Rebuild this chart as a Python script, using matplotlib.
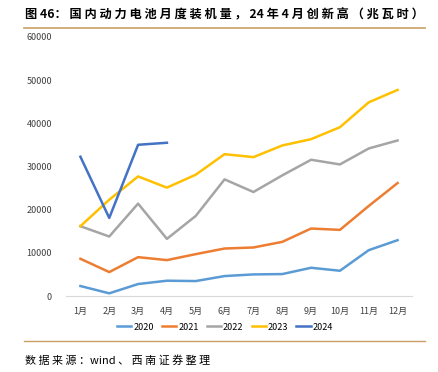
import matplotlib
matplotlib.use("Agg")
from matplotlib import pyplot as plt
from matplotlib.lines import Line2D

plt.rcParams['font.family'] = ['Noto Sans CJK SC', 'DejaVu Sans']

months = ["1月", "2月", "3月", "4月", "5月", "6月", "7月", "8月", "9月", "10月", "11月", "12月"]
y2020 = [2310, 620, 2770, 3540, 3460, 4620, 5000, 5080, 6540, 5850, 10620, 12930]
y2021 = [8620, 5540, 9000, 8310, 9700, 11000, 11240, 12540, 15630, 15320, 20860, 26170]
y2022 = [16170, 13780, 21400, 13240, 18550, 27020, 24090, 27940, 31560, 30480, 34180, 36030]
y2023 = [16170, 22300, 27700, 25100, 28100, 32860, 32170, 34870, 36330, 39100, 44870, 47740]
y2024 = [32260, 18080, 35030, 35500]

series = [("2020", y2020, "#5B9BD5"),
          ("2021", y2021, "#ED7D31"),
          ("2022", y2022, "#A5A5A5"),
          ("2023", y2023, "#FFC000"),
          ("2024", y2024, "#4472C4")]

W, H = 438, 372
fig = plt.figure(figsize=(W / 100, H / 100), dpi=100)
ax = fig.add_axes([66 / W, 76 / H, 346 / W, 259 / H])

x = list(range(len(months)))
for name, vals, color in series:
	ax.plot(x[:len(vals)], vals, color=color, lw=1.8, label=name)

ax.set_ylim(0, 60000)
ax.set_yticks(range(0, 60001, 10000))
ax.set_xlim(-0.5, 11.5)
ax.set_xticks(x)
ax.set_xticklabels(months)
ax.tick_params(axis='both', length=0, labelsize=6.5, colors="#404040")
ax.tick_params(axis='x', pad=8)
ax.tick_params(axis='y', pad=10)
for s in ["top", "right", "left"]:
	ax.spines[s].set_visible(False)
ax.spines["bottom"].set_color("#D9D9D9")

handles = [Line2D([0], [0], color=c, lw=1.8) for _, _, c in series]
fig.legend(handles, [n for n, _, _ in series], loc="center", bbox_to_anchor=(225 / W, 1 - 327 / H),
	ncol=5, frameon=False, fontsize=6.5, handlelength=1.6, handletextpad=0.2, columnspacing=0.9)

renderer = fig.canvas.get_renderer()

def fit_text(x0, x1, yc, s, fs, **kw):
	# shrink / grow the font so the string spans x0..x1
	t = fig.text(x0 / W, 1 - yc / H, s, va="center", ha="left", fontsize=fs, **kw)
	w = t.get_window_extent(renderer).width
	t.set_fontsize(fs * (x1 - x0) / w)
	return t

fit_text(25, 425, 15, "图 46： 国 内 动 力 电 池 月 度 装 机 量 ， 24 年 4 月 创 新 高 （ 兆 瓦 时 ）", 9,
	fontweight="bold")
fig.add_artist(Line2D([24 / W, 425 / W], [1 - 28 / H, 1 - 28 / H], color="#C9A063", lw=1.2))
fig.add_artist(Line2D([24 / W, 425 / W], [1 - 341 / H, 1 - 341 / H], color="#C9A063", lw=1.0))
fit_text(25, 210, 361, "数 据 来 源 ：wind 、 西 南 证 券 整 理", 8, style="italic")

fig.savefig("out.png", dpi=100)
